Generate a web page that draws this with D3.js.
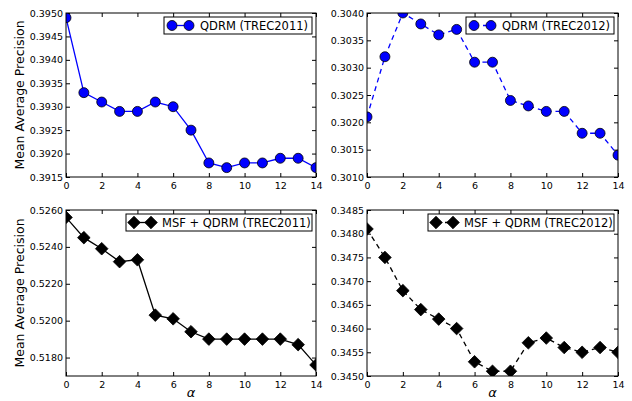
<!DOCTYPE html>
<meta charset="utf-8">
<html>
<head>
<style>
body { margin: 0; background: #fff; }
text { font-family: "DejaVu Sans", sans-serif; }
.axis path { display: none; }
.axis line { stroke: #000; }
.axis text { font-size: 9.5px; fill: #000; }
</style>
<script src="https://cdn.jsdelivr.net/npm/d3@7"></script>
</head>
<body>
<svg width="632" height="401"></svg>
<script>
var alphas = d3.range(0, 15);

var qdrm2011 = [0.3949, 0.3933, 0.3931, 0.3929, 0.3929, 0.3931, 0.3930, 0.3925, 0.3918, 0.3917, 0.3918, 0.3918, 0.3919, 0.3919, 0.3917];
var qdrm2012 = [0.3021, 0.3032, 0.3040, 0.3038, 0.3036, 0.3037, 0.3031, 0.3031, 0.3024, 0.3023, 0.3022, 0.3022, 0.3018, 0.3018, 0.3014];
var msf2011 = [0.5256, 0.5245, 0.5239, 0.5232, 0.5233, 0.5203, 0.5201, 0.5194, 0.5190, 0.5190, 0.5190, 0.5190, 0.5190, 0.5187, 0.5176];
var msf2012 = [0.3481, 0.3475, 0.3468, 0.3464, 0.3462, 0.3460, 0.3453, 0.3451, 0.3451, 0.3457, 0.3458, 0.3456, 0.3455, 0.3456, 0.3455];

var xTicks = [0, 2, 4, 6, 8, 10, 12, 14];

var panels = [
  {name: "QDRM (TREC2011)", values: qdrm2011, domain: [0.3915, 0.3950], ticks: d3.range(0.3915, 0.39501, 0.0005),
   x0: 66, x1: 316, y0: 13, y1: 177, color: "#0000ff", marker: "circle", dash: null, ylabel: true, xlabel: false},
  {name: "QDRM (TREC2012)", values: qdrm2012, domain: [0.3010, 0.3040], ticks: d3.range(0.3010, 0.30401, 0.0005),
   x0: 367, x1: 618, y0: 13, y1: 177, color: "#0000ff", marker: "circle", dash: "5,4", ylabel: false, xlabel: false},
  {name: "MSF + QDRM (TREC2011)", values: msf2011, domain: [0.5170, 0.5260], ticks: d3.range(0.5180, 0.52601, 0.002),
   x0: 66, x1: 316, y0: 210, y1: 376, color: "#000000", marker: "diamond", dash: null, ylabel: true, xlabel: true},
  {name: "MSF + QDRM (TREC2012)", values: msf2012, domain: [0.3450, 0.3485], ticks: d3.range(0.3450, 0.34851, 0.0005),
   x0: 367, x1: 618, y0: 210, y1: 376, color: "#000000", marker: "diamond", dash: "5,4", ylabel: false, xlabel: true}
];

var svg = d3.select("svg");

// matplotlib style 'D' marker: a square turned 45 degrees
var diamondPath = "M0,-6.3L6.3,0L0,6.3L-6.3,0Z";
var circlePath = d3.symbol().type(d3.symbolCircle).size(78)();

panels.forEach(function(p, i) {
  var x = d3.scaleLinear().domain([0, 14]).range([p.x0, p.x1]);
  var y = d3.scaleLinear().domain(p.domain).range([p.y1, p.y0]);
  var fmt = d3.format(".4f");
  var mark = p.marker == "circle" ? circlePath : diamondPath;

  svg.append("clipPath").attr("id", "clip" + i)
    .append("rect").attr("x", p.x0).attr("y", p.y0)
    .attr("width", p.x1 - p.x0).attr("height", p.y1 - p.y0);

  // ticks inward on all four sides
  svg.append("g").attr("class", "axis")
    .attr("transform", "translate(0," + p.y1 + ")")
    .call(d3.axisBottom(x).tickValues(xTicks).tickSize(-4).tickPadding(5).tickFormat(d3.format("d")));
  svg.append("g").attr("class", "axis")
    .attr("transform", "translate(0," + p.y0 + ")")
    .call(d3.axisTop(x).tickValues(xTicks).tickSize(-4).tickFormat(""));
  svg.append("g").attr("class", "axis")
    .attr("transform", "translate(" + p.x0 + ",0)")
    .call(d3.axisLeft(y).tickValues(p.ticks).tickSize(-4).tickPadding(3).tickFormat(fmt));
  svg.append("g").attr("class", "axis")
    .attr("transform", "translate(" + p.x1 + ",0)")
    .call(d3.axisRight(y).tickValues(p.ticks).tickSize(-4).tickFormat(""));

  var plot = svg.append("g").attr("clip-path", "url(#clip" + i + ")");

  var line = d3.line()
    .x(function(d, j) { return x(alphas[j]); })
    .y(function(d) { return y(d); });

  plot.append("path")
    .datum(p.values)
    .attr("d", line)
    .attr("fill", "none")
    .attr("stroke", p.color)
    .attr("stroke-width", 1.3)
    .attr("stroke-dasharray", p.dash);

  plot.selectAll(".pt")
    .data(p.values)
    .enter().append("path")
      .attr("class", "pt")
      .attr("d", mark)
      .attr("transform", function(d, j) { return "translate(" + x(alphas[j]) + "," + y(d) + ")"; })
      .attr("fill", p.color)
      .attr("stroke", "#000")
      .attr("stroke-width", 0.8);

  // frame
  svg.append("rect")
    .attr("x", p.x0).attr("y", p.y0)
    .attr("width", p.x1 - p.x0).attr("height", p.y1 - p.y0)
    .attr("fill", "none").attr("stroke", "#000").attr("stroke-width", 1);

  // legend
  var lw = p.marker == "circle" ? 148 : 186;
  var lx = p.x1 - 4 - lw, ly = p.y0 + 4;
  var lg = svg.append("g");
  lg.append("rect").attr("x", lx).attr("y", ly).attr("width", lw).attr("height", 17)
    .attr("fill", "#fff").attr("stroke", "#000").attr("stroke-width", 1);
  lg.append("line").attr("x1", lx + 8).attr("x2", lx + 25)
    .attr("y1", ly + 8.5).attr("y2", ly + 8.5)
    .attr("stroke", p.color).attr("stroke-width", 1.3).attr("stroke-dasharray", p.dash);
  [lx + 8, lx + 25].forEach(function(cx) {
    lg.append("path").attr("d", mark)
      .attr("transform", "translate(" + cx + "," + (ly + 8.5) + ")")
      .attr("fill", p.color).attr("stroke", "#000").attr("stroke-width", 0.8);
  });
  lg.append("text").attr("x", lx + 36).attr("y", ly + 12.5)
    .attr("font-size", "11.5px").text(p.name);

  if (p.ylabel) {
    svg.append("text")
      .attr("transform", "translate(24," + ((p.y0 + p.y1) / 2) + ") rotate(-90)")
      .attr("text-anchor", "middle")
      .attr("font-size", "12.5px")
      .text("Mean Average Precision");
  }
  if (p.xlabel) {
    svg.append("text")
      .attr("x", (p.x0 + p.x1) / 2).attr("y", 397)
      .attr("text-anchor", "middle")
      .attr("font-family", "DejaVu Serif, serif")
      .attr("font-style", "italic")
      .attr("font-size", "13px")
      .text("α");
  }
});
</script>
</body>
</html>
